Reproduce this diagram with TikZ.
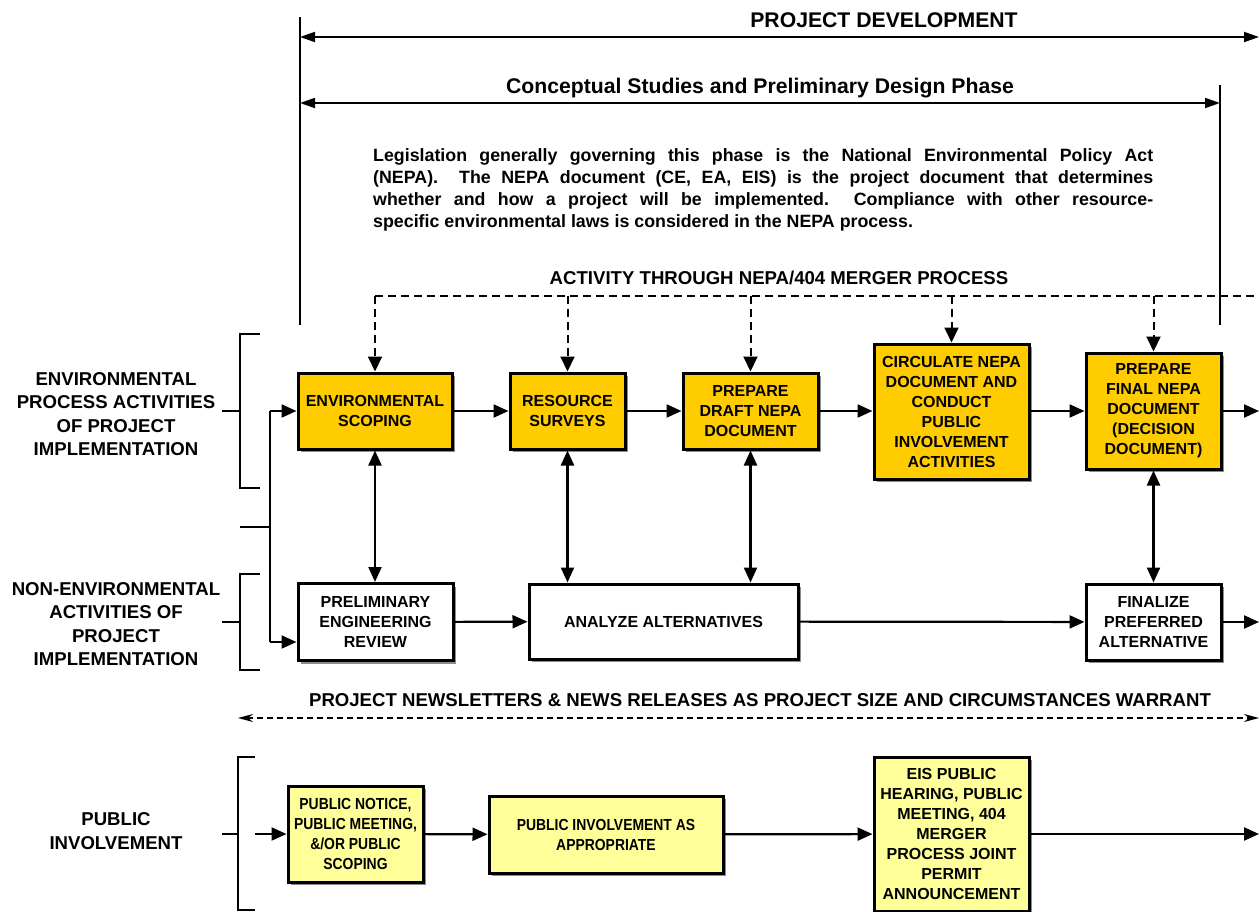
\documentclass[tikz,border=0pt]{standalone}
\usepackage{fontspec}
\setmainfont{Liberation Sans}
\newfontfamily\narrowfam[FakeStretch=0.87]{Liberation Sans}
\usetikzlibrary{arrows.meta,shadows,positioning}
\definecolor{orangebox}{HTML}{FFCC00}
\definecolor{yellowbox}{HTML}{FFFF99}
\newcommand\bxf{\fontsize{16}{20}\selectfont\bfseries}
\newcommand\sbxf{\narrowfam\fontsize{16}{20}\selectfont\bfseries}
\newcommand\lblf{\fontsize{18.6}{23.5}\selectfont\bfseries}
\newcommand\ttlf{\fontsize{21.2}{24}\selectfont\bfseries}
\newcommand\parf{\fontsize{17.8}{22}\selectfont\bfseries}
\tikzset{
  pbox/.style={draw, line width=3pt, align=center, font=\bxf, inner sep=0pt,
    drop shadow={shadow xshift=3pt, shadow yshift=-3pt, fill=black!45, opacity=1}},
  obox/.style={pbox, fill=orangebox},
  ybox/.style={pbox, fill=yellowbox},
  wbox/.style={pbox, fill=white},
  conn/.style={line width=2.2pt, -{Triangle[length=15pt,width=13pt]}},
  dconn/.style={line width=2.2pt, {Triangle[length=15pt,width=13pt]}-{Triangle[length=15pt,width=13pt]}},
  dsh/.style={line width=2pt, dash pattern=on 8pt off 5pt},
  dshar/.style={dsh, -{Triangle[length=15pt,width=14pt]}},
  brk/.style={line width=2.6pt},
  topar/.style={line width=1.8pt, {Triangle[length=15pt,width=10pt]}-{Triangle[length=15pt,width=10pt]}},
  lbl/.style={font=\lblf, align=center, inner sep=0pt}
}
\begin{document}
\begin{tikzpicture}[x=1pt,y=-1pt]
\useasboundingbox[fill=white] (0,0) rectangle (1259,912);

% top frame
\draw[line width=1.8pt] (300,17) -- (300,325);
\draw[line width=1.8pt] (1220,85) -- (1220,325);
\coordinate (pdL) at (300,37); \coordinate (pdR) at (1259,37);
\coordinate (csL) at (300,103); \coordinate (csR) at (1220,103);
\draw[topar] (pdL) -- (pdR);
\draw[topar] (csL) -- (csR);
\node[font=\ttlf, inner sep=0pt] (tpd) at (884,20) {PROJECT DEVELOPMENT};
\node[font=\ttlf, inner sep=0pt] (tcs) at (760,88) {Conceptual Studies and Preliminary Design Phase};
\node[font=\parf, text width=780pt, align=justify, anchor=north west, inner sep=0pt] (para) at (373,148)
 {Legislation generally governing this phase is the National Environmental Policy Act\linebreak
 (NEPA).\ \ The NEPA document (CE, EA, EIS) is the project document that determines\linebreak
 whether and how a project will be implemented.\ \ Compliance with other resource-\linebreak
 specific environmental laws is considered in the NEPA process.};
\node[lbl] (tact) at (779,278) {ACTIVITY THROUGH NEPA/404 MERGER PROCESS};

% environmental row
\node[obox, minimum width=154pt, minimum height=76pt] (env) at (375,411) {ENVIRONMENTAL\\SCOPING};
\node[obox, minimum width=115pt, minimum height=76pt] (res) at (567.5,411) {RESOURCE\\SURVEYS};
\node[obox, minimum width=135pt, minimum height=76pt] (draft) at (750.5,411) {PREPARE\\DRAFT NEPA\\DOCUMENT};
\node[obox, minimum width=155pt, minimum height=135pt] (circ) at (951.5,411.5) {CIRCULATE NEPA\\DOCUMENT AND\\CONDUCT\\PUBLIC\\INVOLVEMENT\\ACTIVITIES};
\node[obox, minimum width=135pt, minimum height=116pt] (final) at (1153.5,411) {PREPARE\\FINAL NEPA\\DOCUMENT\\(DECISION\\DOCUMENT)};

% non-environmental row
\node[wbox, minimum width=155pt, minimum height=77pt] (prelim) at (375.5,622) {PRELIMINARY\\ENGINEERING\\REVIEW};
\node[wbox, minimum width=269pt, minimum height=75pt] (analyze) at (663.5,621.5) {ANALYZE ALTERNATIVES};
\node[wbox, minimum width=135pt, minimum height=76pt] (finalize) at (1153.5,622) {FINALIZE\\PREFERRED\\ALTERNATIVE};

% public row
\node[ybox, font=\sbxf, minimum width=135pt, minimum height=96pt] (pubn) at (355.5,834) {PUBLIC NOTICE,\\PUBLIC MEETING,\\\&/OR PUBLIC\\SCOPING};
\node[ybox, font=\sbxf, minimum width=234pt, minimum height=77pt] (pubi) at (606,834.5) {PUBLIC INVOLVEMENT AS\\APPROPRIATE};
\node[ybox, minimum width=155pt, minimum height=154pt] (eis) at (951.5,834) {EIS PUBLIC\\HEARING, PUBLIC\\MEETING, 404\\MERGER\\PROCESS JOINT\\PERMIT\\ANNOUNCEMENT};

% dashed merger process
\coordinate (mL) at (375,296); \coordinate (mR) at (1259,296);
\draw[dsh] (mL) -- (mR);
\draw[dshar] (mL) -- (env.north);
\draw[dshar] (res.north |- mL) -- (res.north);
\draw[dshar] (draft.north |- mL) -- (draft.north);
\draw[dshar] (circ.north |- mL) -- (circ.north);
\draw[dshar] (final.north |- mL) -- (final.north);

% horizontal flows env row
\coordinate (eR) at (1259,411);
\draw[conn] (env) -- (res);
\draw[conn] (res) -- (draft);
\draw[conn] (draft) -- (circ.west |- draft);
\draw[conn] (circ.east |- final) -- (final);
\draw[conn] (final) -- (eR);

% vertical links
\draw[dconn] (env.south) -- (prelim.north -| env.south);
\draw[dconn] (res.south) -- (analyze.north -| res.south);
\draw[dconn] (draft.south) -- (analyze.north -| draft.south);
\draw[dconn] (final.south) -- (finalize.north -| final.south);

% non-env flows
\coordinate (nR) at (1259,622);
\draw[conn] (prelim) -- (analyze);
\draw[conn] (analyze) -- (finalize);
\draw[conn] (finalize) -- (nR);

% left junction
\coordinate (jT) at (270,411); \coordinate (jB) at (270,642);
\coordinate (jM) at (270,527); \coordinate (jS) at (240,527);
\draw[line width=2.2pt] (jS) -- (jM);
\draw[line width=2.2pt] (jT) -- (jB);
\draw[conn] (jT) -- (env.west);
\draw[conn] (jB) -- (prelim.west |- jB);

% brackets and labels
\draw[brk] (260,334) -- (240,334) -- (240,488) -- (260,488);
\coordinate (b1) at (240,411);
\draw[brk] (222,411) -- (b1);
\draw[brk] (260,574) -- (240,574) -- (240,670) -- (260,670);
\coordinate (b2) at (240,622);
\draw[brk] (222,622) -- (b2);
\draw[brk] (255,757) -- (238,757) -- (238,910) -- (255,910);
\coordinate (b3) at (238,834);
\draw[brk] (222,834) -- (b3);
\node[lbl] (lenv) at (116,414) {ENVIRONMENTAL\\PROCESS ACTIVITIES\\OF PROJECT\\IMPLEMENTATION};
\node[lbl] (lnon) at (116,624) {NON-ENVIRONMENTAL\\ACTIVITIES OF\\PROJECT\\IMPLEMENTATION};
\node[lbl] (lpub) at (116,831) {PUBLIC\\INVOLVEMENT};

% newsletters
\node[lbl] (tnews) at (760,700) {PROJECT NEWSLETTERS \& NEWS RELEASES AS PROJECT SIZE AND CIRCUMSTANCES WARRANT};
\coordinate (nwL) at (238,718); \coordinate (nwR) at (1259,718);
\draw[line width=1.6pt, dash pattern=on 6pt off 4pt, {Stealth[length=15pt,width=8pt]}-{Stealth[length=15pt,width=8pt]}] (nwL) -- (nwR);

% public flows
\coordinate (pL) at (255,834); \coordinate (pR) at (1259,834);
\draw[conn] (pL) -- (pubn);
\draw[conn] (pubn) -- (pubi);
\draw[conn] (pubi) -- (eis);
\draw[conn] (eis) -- (pR);
\end{tikzpicture}
\end{document}
